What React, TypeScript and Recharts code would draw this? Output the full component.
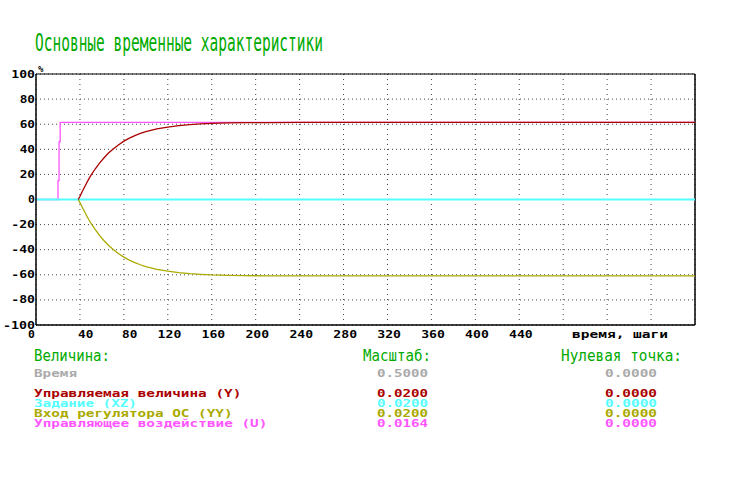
import React from 'react';
import { LineChart, Line, XAxis, YAxis, CartesianGrid, ReferenceLine } from 'recharts';

// ---- data ----
const xTicks = [0, 40, 80, 120, 160, 200, 240, 280, 320, 360, 400, 440, 480, 520, 560];
const xLabelMax = 440;
const yTicks = [-100, -80, -60, -40, -20, 0, 20, 40, 60, 80, 100];

const stepsCurve = [38.5, 40, 42, 44, 46, 48, 50, 54, 58, 62, 66, 70, 75, 80, 85, 90, 95, 100, 110, 120, 130, 140, 150, 160, 175, 190, 210, 240, 600];
const valuesY = [0, 2.5, 6.2, 9.6, 13.0, 16.2, 19.2, 24.5, 29.2, 33.3, 37.0, 40.1, 43.5, 46.5, 48.9, 50.9, 52.6, 54.0, 56.2, 57.7, 58.8, 59.6, 60.2, 60.6, 61.0, 61.2, 61.3, 61.4, 61.4];
const valuesYY = [0, -2.5, -6.0, -9.4, -12.7, -15.9, -18.9, -24.0, -28.8, -32.9, -36.5, -39.6, -43.0, -45.9, -48.3, -50.3, -52.0, -53.4, -55.6, -57.1, -58.2, -59.0, -59.6, -60.1, -60.5, -60.7, -60.8, -60.8, -60.8];
const stepsU = [0, 20, 20, 21, 21, 22, 22, 600];
const valuesU = [0, 0, 15, 15, 46, 46, 61.5, 61.5];
const stepsXZ = [0, 600];
const valuesXZ = [0, 0];

const legendNames = ['Управляемая величина (Y)', 'Задание (XZ)', 'Вход регулятора ОС (YY)', 'Управляющее воздействие (U)'];
const legendScales = ['0.0200', '0.0200', '0.0200', '0.0164'];
const legendZeros = ['0.0000', '0.0000', '0.0000', '0.0000'];
const legendColors = ['#aa0000', '#55ffff', '#aaaa00', '#ff55ff'];
const timeRow = { name: 'Время', scale: '0.5000', zero: '0.0000' };

const toPoints = (ts: number[], vs: number[]) => ts.map((t, i) => ({ t, v: vs[i] }));
const dataY = toPoints(stepsCurve, valuesY);
const dataYY = toPoints(stepsCurve, valuesYY);
const dataU = toPoints(stepsU, valuesU);
const dataXZ = toPoints(stepsXZ, valuesXZ);

const MONO = '"DejaVu Sans Mono", monospace';
const CH = 8.4;

const YTick = (props: any) => {
  const { y, payload } = props;
  const label = String(payload.value);
  return (
    <text x={35} y={y + 3.5} textAnchor="end" fontFamily={MONO} fontWeight="bold" fontSize={10} fill="#000"
      textLength={label.length * CH - 1.5} lengthAdjust="spacingAndGlyphs">{label}</text>
  );
};

const XTick = (props: any) => {
  const { x, payload } = props;
  const v = payload.value;
  if (v > xLabelMax) return <g />;
  const label = String(v);
  const endX = v === 0 ? 35 : x + 13.5;
  return (
    <text x={endX} y={338} textAnchor="end" fontFamily={MONO} fontWeight="bold" fontSize={10} fill="#000"
      textLength={label.length * CH - 1.5} lengthAdjust="spacingAndGlyphs">{label}</text>
  );
};

const SmallText = ({ x, y, w, color, children }: any) => (
  <text x={x} y={y} fontFamily={MONO} fontWeight="bold" fontSize={10} fill={color}
    textLength={w} lengthAdjust="spacingAndGlyphs">{children}</text>
);

const HeadText = ({ x, y, w, size, children }: any) => (
  <text x={x} y={y} fontFamily={MONO} fontSize={size} fill="#00aa00"
    textLength={w} lengthAdjust="spacingAndGlyphs">{children}</text>
);

export default function App() {
  const rowY = [397, 406.5, 416.5, 426.5];
  return (
    <div style={{ position: 'absolute', left: 0, top: 0, width: 737, height: 480, background: '#fff' }}>
      <LineChart width={737} height={480} margin={{ top: 74, right: 42, left: 0, bottom: 125 }}>
        <CartesianGrid vertical={false} stroke="#444" strokeDasharray="1 3" />
        <CartesianGrid horizontal={false} stroke="#444" strokeDasharray="1 4" />
        <XAxis dataKey="t" type="number" domain={[0, 600]} ticks={xTicks} interval={0} height={30}
          axisLine={{ stroke: '#000', strokeWidth: 1.5 }} tickLine={false} tickSize={0} tick={<XTick />} allowDuplicatedCategory={false} />
        <YAxis type="number" domain={[-100, 100]} ticks={yTicks} interval={0} width={36}
          axisLine={{ stroke: '#000', strokeWidth: 1.5 }} tickLine={false} tickSize={0} tick={<YTick />} />
        <ReferenceLine y={100} stroke="#000" strokeWidth={1.2} />
        <ReferenceLine x={600} stroke="#000" strokeWidth={1.5} />
        <Line data={dataU} dataKey="v" stroke="#ff55ff" strokeWidth={1.3} dot={false} isAnimationActive={false} type="linear" />
        <Line data={dataXZ} dataKey="v" stroke="#55ffff" strokeWidth={2} dot={false} isAnimationActive={false} type="linear" />
        <Line data={dataYY} dataKey="v" stroke="#aaaa00" strokeWidth={1.3} dot={false} isAnimationActive={false} type="linear" />
        <Line data={dataY} dataKey="v" stroke="#aa0000" strokeWidth={1.3} dot={false} isAnimationActive={false} type="linear" />
      </LineChart>
      <svg width={737} height={480} style={{ position: 'absolute', left: 0, top: 0, pointerEvents: 'none' }}>
        <HeadText x={35} y={51} w={288} size={25}>Основные временные характеристики</HeadText>
        <text x={38} y={72} fontFamily={MONO} fontWeight="bold" fontSize={9} fill="#000">%</text>
        <SmallText x={572} y={338} w={96} color="#000">время, шаги</SmallText>
        <HeadText x={34} y={361} w={76} size={15}>Величина:</HeadText>
        <HeadText x={363} y={361} w={68} size={15}>Масштаб:</HeadText>
        <HeadText x={561} y={361} w={121} size={15}>Нулевая точка:</HeadText>
        <SmallText x={34} y={377} w={43} color="#aaaaaa">{timeRow.name}</SmallText>
        <SmallText x={377} y={377} w={51} color="#aaaaaa">{timeRow.scale}</SmallText>
        <SmallText x={605} y={377} w={52} color="#aaaaaa">{timeRow.zero}</SmallText>
        {legendNames.map((n, i) => (
          <g key={n}>
            <SmallText x={34} y={rowY[i]} w={n.length * 8.7 - 1.5} color={legendColors[i]}>{n}</SmallText>
            <SmallText x={377} y={rowY[i]} w={51} color={legendColors[i]}>{legendScales[i]}</SmallText>
            <SmallText x={605} y={rowY[i]} w={52} color={legendColors[i]}>{legendZeros[i]}</SmallText>
          </g>
        ))}
      </svg>
    </div>
  );
}
